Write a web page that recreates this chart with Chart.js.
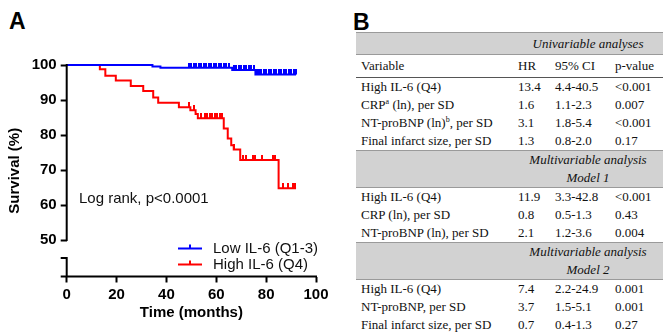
<!DOCTYPE html>
<html>
<head>
<meta charset="utf-8">
<script src="https://cdn.jsdelivr.net/npm/chart.js@4.4.0/dist/chart.umd.min.js"></script>
<style>
  body { margin: 0; background: #fff; width: 663px; height: 333px; overflow: hidden; position: relative; }
  .panel-label { position: absolute; font: bold 23px "Liberation Sans", Arial, sans-serif; line-height: 23px; color: #000; }
  #kmChart { position: absolute; left: 0; top: 0; }
  #hrTable { position: absolute; left: 356px; top: 32px; width: 307px; border-collapse: collapse;
    font: 13px "Liberation Serif", "Times New Roman", serif; color: #111; table-layout: fixed; }
  #hrTable td { padding: 0 0 0 5px; line-height: 18px; height: 18px; white-space: nowrap; }
  #hrTable tr.top { border-top: 2px solid #8a8a8a; }
  #hrTable tr.top td { height: 21px; line-height: 21px; }
  #hrTable tr.band td { background: #d2d2d2; font-style: italic; text-align: center; padding: 0; }
  #hrTable tr.band { border-top: 1px solid #9a9a9a; border-bottom: 1px solid #9a9a9a; }
  #hrTable tr.head { border-bottom: 1px solid #555; }
  #hrTable tr.head td { height: 22px; line-height: 22px; }
  #hrTable sup { font-size: 8px; vertical-align: 5px; line-height: 0; }
</style>
</head>
<body>
<div class="panel-label" style="left:9px;top:10px">A</div>
<div class="panel-label" style="left:353px;top:11px">B</div>
<canvas id="kmChart" width="340" height="333"></canvas>
<table id="hrTable">
  <colgroup><col style="width:157px"><col style="width:37px"><col style="width:60px"><col style="width:53px"></colgroup>
  <tbody id="hrBody"></tbody>
</table>
<script>
// Kaplan-Meier steps (time in months, survival %)
const lowTimes = [0, 34.4, 37.6, 66.4, 75.7, 92];
const lowSurv = [100, 99.6, 99.2, 98.6, 97.3, 97.3];
const lowCensored = [49, 50, 51, 52, 53, 54, 55, 56, 57, 58, 59, 60, 61, 62, 63, 64, 65,
  67, 68, 69, 70, 71, 72, 73, 74, 75,
  76.5, 77, 78, 79, 80, 81, 82, 83, 84, 85, 86, 87, 88, 89, 90, 91, 92];

const highTimes = [0, 13.3, 15.5, 19.7, 25.7, 30.7, 34.7, 36.7, 45.0, 49.6, 51.7, 52.6, 63.0, 64.6, 66.0, 67.0, 69.6, 85.0, 92];
const highSurv = [100, 98.8, 96.9, 95.6, 94.0, 92.6, 90.7, 89.2, 87.9, 87.1, 86.0, 84.8, 81.9, 79.0, 77.1, 75.9, 72.9, 64.8, 64.8];
const highCensored = [48.9, 51.2, 54, 55.3, 56.4, 57.3, 58.4, 59.3, 60.2, 61.3, 62.2, 67.3,
  70.9, 72, 74.6, 75.7, 78.4, 82.9, 83.7, 86.6, 88.7, 90.6, 91.7];

const groupLabels = ['Low IL-6 (Q1-3)', 'High IL-6 (Q4)'];
const groupColors = ['#0000ff', '#ff0000'];
const yTicks = [50, 60, 70, 80, 90, 100];
const xTicks = [0, 20, 40, 60, 80, 100];

// table B
const tableHead = ['Variable', 'HR', '95% CI', 'p-value'];
const uniRows = [
  ['High IL-6 (Q4)', '13.4', '4.4-40.5', '<0.001'],
  ['CRP<sup>a</sup> (ln), per SD', '1.6', '1.1-2.3', '0.007'],
  ['NT-proBNP (ln)<sup>b</sup>, per SD', '3.1', '1.8-5.4', '<0.001'],
  ['Final infarct size, per SD', '1.3', '0.8-2.0', '0.17']
];
const model1Rows = [
  ['High IL-6 (Q4)', '11.9', '3.3-42.8', '<0.001'],
  ['CRP (ln), per SD', '0.8', '0.5-1.3', '0.43'],
  ['NT-proBNP (ln), per SD', '2.1', '1.2-3.6', '0.004']
];
const model2Rows = [
  ['High IL-6 (Q4)', '7.4', '2.2-24.9', '0.001'],
  ['NT-proBNP, per SD', '3.7', '1.5-5.1', '0.001'],
  ['Final infarct size, per SD', '0.7', '0.4-1.3', '0.27']
];

function esc(s) { return s.replace(/<(?!\/?sup>)/g, '&lt;'); }
function band(text, cls) {
  return '<tr class="band ' + (cls || '') + '"><td></td><td colspan="3">' + text + '</td></tr>';
}
function rows(list) {
  return list.map(r => '<tr>' + r.map(c => '<td>' + esc(c) + '</td>').join('') + '</tr>').join('');
}
document.getElementById('hrBody').innerHTML =
  band('Univariable analyses', 'top') +
  '<tr class="head">' + tableHead.map(c => '<td>' + c + '</td>').join('') + '</tr>' +
  rows(uniRows) +
  band('Multivariable analysis<br>Model 1') +
  rows(model1Rows) +
  band('Multivariable analysis<br>Model 2') +
  rows(model2Rows);

// survival level at time t
function survAt(times, surv, t) {
  let v = surv[0];
  for (let i = 0; i < times.length; i++) if (times[i] <= t) v = surv[i];
  return v;
}

// censor tick: short vertical stroke that sits on top of the line
function tickImage(color) {
  const c = document.createElement('canvas');
  c.width = 2; c.height = 10;
  const g = c.getContext('2d');
  g.fillStyle = color;
  g.fillRect(0, 0, 2, 5);
  return c;
}

const kmSets = [
  { times: lowTimes, surv: lowSurv, cens: lowCensored },
  { times: highTimes, surv: highSurv, cens: highCensored }
];

const datasets = [];
kmSets.forEach((s, i) => {
  datasets.push({
    type: 'line',
    label: groupLabels[i],
    data: s.times.map((t, k) => ({ x: t, y: s.surv[k] })),
    borderColor: groupColors[i],
    borderWidth: 2,
    stepped: 'before',
    pointRadius: 0,
    fill: false,
    clip: false
  });
});
kmSets.forEach((s, i) => {
  datasets.push({
    type: 'scatter',
    label: groupLabels[i] + ' censored',
    data: s.cens.map(t => ({ x: t, y: survAt(s.times, s.surv, t) })),
    pointStyle: tickImage(groupColors[i]),
    pointRadius: 4,
    clip: false
  });
});

const FONT = '"Liberation Sans", Arial, sans-serif';

const kmDecor = {
  id: 'kmDecor',
  afterDatasetsDraw(chart) {
    const { ctx, scales: { x, y }, chartArea } = chart;
    const x0 = x.getPixelForValue(0);
    const top = y.getPixelForValue(100);
    const p50 = y.getPixelForValue(50);
    const bottom = chartArea.bottom;
    ctx.save();
    ctx.strokeStyle = '#000';
    ctx.lineWidth = 2;
    ctx.beginPath();
    // broken y axis
    ctx.moveTo(x0, top - 1); ctx.lineTo(x0, p50 + 1);
    ctx.moveTo(x0, p50 + 18); ctx.lineTo(x0, bottom);
    ctx.moveTo(x0 - 6, p50 + 18); ctx.lineTo(x0 + 1, p50 + 18);
    // x axis
    ctx.moveTo(x0 - 6, bottom); ctx.lineTo(x.right + 1, bottom);
    ctx.stroke();

    ctx.fillStyle = '#111';
    ctx.font = '15px ' + FONT;
    ctx.textBaseline = 'middle';
    ctx.fillText('Log rank, p<0.0001', 79, 199);

    // legend
    [248.5, 264.5].forEach((ly, i) => {
      ctx.strokeStyle = groupColors[i];
      ctx.beginPath();
      ctx.moveTo(178, ly); ctx.lineTo(202, ly);
      ctx.moveTo(190, ly); ctx.lineTo(190, ly - 4);
      ctx.stroke();
      ctx.fillStyle = '#111';
      ctx.fillText(chart.data.datasets[i].label, 213, ly);
    });
    ctx.restore();
  }
};

new Chart(document.getElementById('kmChart'), {
  data: { datasets },
  options: {
    responsive: false,
    animation: false,
    layout: { padding: { top: 65, right: 24, left: 0, bottom: 0 } },
    plugins: { legend: { display: false }, tooltip: { enabled: false } },
    scales: {
      x: {
        type: 'linear',
        min: 0, max: 100,
        afterBuildTicks: s => { s.ticks = xTicks.map(v => ({ value: v })); },
        afterFit: s => { s.height = 56.5; },
        border: { display: false },
        grid: { drawOnChartArea: false, tickLength: 6, tickWidth: 2, tickColor: '#000' },
        ticks: { color: '#000', padding: 3, font: { family: FONT, size: 15, weight: 'bold' } },
        title: { display: true, text: 'Time (months)', color: '#000', padding: { top: 0, bottom: 11 },
          font: { family: FONT, size: 15, weight: 'bold' } }
      },
      y: {
        type: 'linear',
        min: 39.6, max: 100,
        afterBuildTicks: s => { s.ticks = yTicks.map(v => ({ value: v })); },
        afterFit: s => { s.width = 66.7; },
        border: { display: false },
        grid: { drawOnChartArea: false, tickLength: 6, tickWidth: 2, tickColor: '#000' },
        ticks: { color: '#000', padding: 4, font: { family: FONT, size: 15, weight: 'bold' } },
        title: { display: true, text: 'Survival (%)', color: '#000', padding: { top: 6, bottom: 0 },
          font: { family: FONT, size: 15, weight: 'bold' } }
      }
    }
  },
  plugins: [kmDecor]
});
</script>
</body>
</html>
